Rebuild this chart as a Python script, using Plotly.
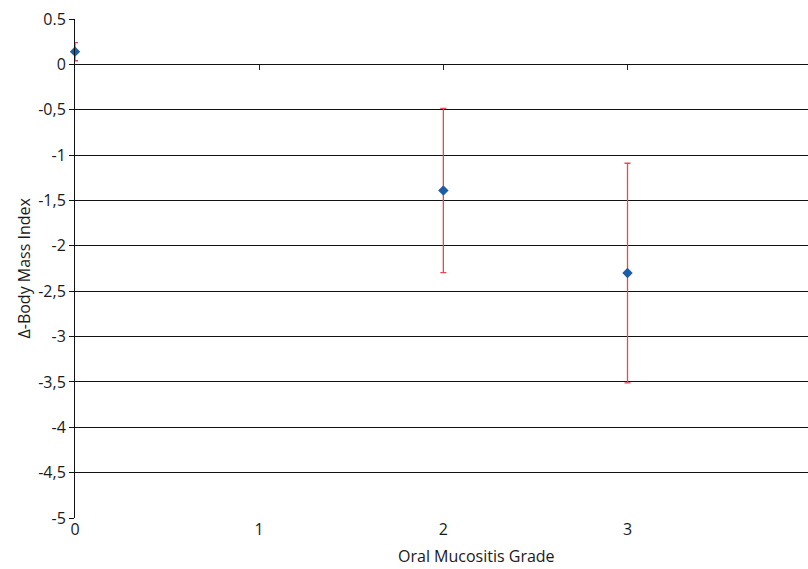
import plotly.graph_objects as go

grades = [0, 2, 3]
delta_bmi = [0.14, -1.39, -2.30]
err = [0.10, 0.905, 1.21]

y_tickvals = [0.5, 0, -0.5, -1, -1.5, -2, -2.5, -3, -3.5, -4, -4.5, -5]
y_ticktext = ["0.5", "0", "-0,5", "-1", "-1,5", "-2", "-2,5", "-3", "-3,5", "-4", "-4,5", "-5"]
x_tickvals = [0, 1, 2, 3]
x_ticktext = ["0", "1", "2", "3"]

W, H = 808, 569
ML, MR, MT, MB = 75, 0, 19, 51
PW = W - ML - MR
PH = H - MT - MB

font = dict(family="Open Sans, Noto Sans, sans-serif", size=16, color="#1a1a1a")

fig = go.Figure()
fig.add_trace(go.Scatter(
    x=grades, y=delta_bmi, mode="markers",
    marker=dict(symbol="diamond", size=8, color="#1b5ea6"),
    error_y=dict(type="data", array=err, visible=True, color="#ec4655",
                 thickness=1.3, width=3),
    showlegend=False, cliponaxis=False,
))
# helper trace for the x-axis ticks drawn at y = 0
fig.add_trace(go.Scatter(x=[None], y=[None], xaxis="x2", showlegend=False, hoverinfo="skip"))

XR = [0, 3.98]
fig.update_layout(
    width=W, height=H,
    margin=dict(l=ML, r=MR, t=MT, b=MB),
    paper_bgcolor="white", plot_bgcolor="white",
    font=font,
    xaxis=dict(
        range=XR, tickvals=x_tickvals, ticktext=x_ticktext,
        showgrid=False, zeroline=False, showline=False, ticks="",
        tickfont=font, automargin=False,
    ),
    xaxis2=dict(
        range=XR, overlaying="x", anchor="free", position=5 / 5.5,
        tickvals=[1, 2, 3], showticklabels=False, ticks="outside",
        ticklen=5, tickcolor="#222222", tickwidth=1,
        showgrid=False, zeroline=False, showline=False,
    ),
    yaxis=dict(
        range=[-5, 0.5], tickvals=y_tickvals, ticktext=y_ticktext,
        showgrid=True, gridcolor="#111111", gridwidth=1,
        zeroline=False, showline=True, linecolor="#111111", linewidth=1,
        ticks="outside", ticklen=5, tickcolor="#111111",
        tickfont=font, automargin=False,
    ),
    annotations=[
        dict(text="Oral Mucositis Grade", xref="paper", yref="paper",
             x=(476.5 - ML) / PW, y=0, yshift=-38, xanchor="center", yanchor="middle",
             showarrow=False, font=font),
        dict(text="Δ-Body Mass Index", xref="paper", yref="paper",
             x=(23 - ML) / PW, y=0.5, textangle=-90, xanchor="center", yanchor="middle",
             showarrow=False, font=font),
    ],
)
fig.write_html("out.html", config={"displayModeBar": False},
               post_script="document.body.style.margin='0';document.body.style.overflow='hidden';")
